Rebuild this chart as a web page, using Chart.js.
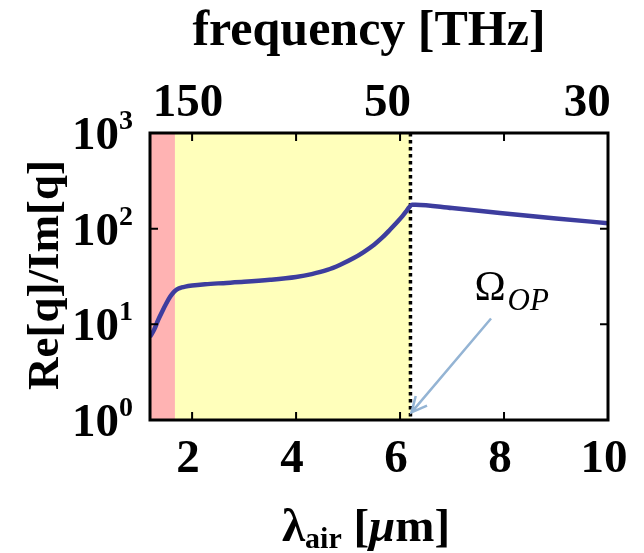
<!DOCTYPE html>
<html>
<head>
<meta charset="utf-8">
<script src="https://cdn.jsdelivr.net/npm/chart.js@4/dist/chart.umd.min.js"></script>
<style>
  html, body { margin: 0; padding: 0; background: #fff; }
  #wrap { width: 644px; height: 553px; }
</style>
</head>
<body>
<div id="wrap"><canvas id="chart" width="644" height="553"></canvas></div>
<script>
// wavelength in air [um] and Re[q]/Im[q]
const lambda = [1.19, 1.27, 1.35, 1.43, 1.5, 1.58, 1.64, 1.68, 1.74, 1.8, 1.87, 2.0, 2.25, 2.5, 3.0, 3.5, 4.0, 4.3, 4.6, 4.85, 5.1, 5.3, 5.5, 5.65, 5.81, 5.95, 6.05, 6.12, 6.18, 6.23, 6.3, 7.0, 7.92, 9.0, 10.0];
const ratio  = [7.4, 8.8, 11.2, 13.8, 16.4, 19.5, 21.5, 22.6, 23.7, 24.3, 24.8, 25.4, 26.2, 26.8, 27.8, 29.2, 31.3, 33.5, 37.0, 42.0, 49.0, 57.0, 68.0, 80.0, 98.0, 118.0, 136.0, 152.0, 168.0, 178.0, 178.0, 164.0, 146.0, 128.0, 114.0];

// axis ticks
const xTicks = [2, 4, 6, 8, 10];
const xTickMarks = [2, 4, 6, 8];
const yTicks = [1, 10, 100, 1000];
const yExp = ['0', '1', '2', '3'];
const freqTicks = [150, 50, 30];       // THz, top axis
const C_UM_THZ = 288;                  // lambda = C / f, as placed in the figure

// shaded bands (um)
const pinkBand = [1.19, 1.67];
const yellowBand = [1.67, 6.2];
const omegaOP = 6.2;

const SERIF = "'Liberation Serif', 'Times New Roman', serif";

const bandsPlugin = {
  id: 'bands',
  beforeDatasetsDraw(chart) {
    const { ctx, chartArea: a, scales: { x } } = chart;
    ctx.save();
    ctx.fillStyle = '#ffb3b3';
    ctx.fillRect(x.getPixelForValue(pinkBand[0]), a.top, x.getPixelForValue(pinkBand[1]) - x.getPixelForValue(pinkBand[0]), a.bottom - a.top);
    ctx.fillStyle = '#ffffbb';
    ctx.fillRect(x.getPixelForValue(yellowBand[0]), a.top, x.getPixelForValue(yellowBand[1]) - x.getPixelForValue(yellowBand[0]), a.bottom - a.top);
    // dotted line at Omega_OP
    const px = x.getPixelForValue(omegaOP);
    ctx.strokeStyle = '#000';
    ctx.lineWidth = 3.5;
    ctx.setLineDash([3.5, 3.5]);
    ctx.beginPath();
    ctx.moveTo(px, a.top);
    ctx.lineTo(px, a.bottom);
    ctx.stroke();
    ctx.restore();
  }
};

const framePlugin = {
  id: 'frame',
  afterDraw(chart) {
    const { ctx, chartArea: a, scales: { x, y } } = chart;
    ctx.save();

    // arrow to Omega_OP
    const ax0 = x.getPixelForValue(7.75), ay0 = y.getPixelForValue(11.5);
    const ax1 = x.getPixelForValue(6.22), ay1 = y.getPixelForValue(1.2);
    ctx.strokeStyle = '#94b4d4';
    ctx.lineWidth = 2.5;
    ctx.beginPath();
    ctx.moveTo(ax0, ay0);
    ctx.lineTo(ax1, ay1);
    const ang = Math.atan2(ay1 - ay0, ax1 - ax0);
    ctx.moveTo(ax1 - 17 * Math.cos(ang - 0.45), ay1 - 17 * Math.sin(ang - 0.45));
    ctx.lineTo(ax1, ay1);
    ctx.lineTo(ax1 - 17 * Math.cos(ang + 0.45), ay1 - 17 * Math.sin(ang + 0.45));
    ctx.stroke();

    // label Omega_OP
    ctx.fillStyle = '#000';
    ctx.textBaseline = 'alphabetic';
    ctx.textAlign = 'left';
    const lx = x.getPixelForValue(7.43), ly = y.getPixelForValue(18);
    ctx.font = '42px ' + SERIF;
    ctx.fillText('\u03A9', lx, ly);
    const ow = ctx.measureText('\u03A9').width;
    ctx.font = 'italic 31px ' + SERIF;
    ctx.fillText('OP', lx + ow + 2, ly + 10);

    // frame
    ctx.strokeStyle = '#000';
    ctx.lineWidth = 3;
    ctx.strokeRect(a.left, a.top, a.right - a.left, a.bottom - a.top);

    // inward ticks
    ctx.lineWidth = 2;
    ctx.beginPath();
    xTickMarks.forEach(v => {
      const p = x.getPixelForValue(v);
      ctx.moveTo(p, a.bottom); ctx.lineTo(p, a.bottom - 8);
      ctx.moveTo(p, a.top); ctx.lineTo(p, a.top + 8);
    });
    yTicks.slice(1, -1).forEach(v => {
      const p = y.getPixelForValue(v);
      ctx.moveTo(a.left, p); ctx.lineTo(a.left + 8, p);
      ctx.moveTo(a.right, p); ctx.lineTo(a.right - 8, p);
    });
    ctx.stroke();

    // bottom tick labels
    ctx.fillStyle = '#000';
    ctx.font = 'bold 47px ' + SERIF;
    ctx.textAlign = 'center';
    xTicks.forEach(v => {
      ctx.fillText(String(v), x.getPixelForValue(v) - 4, 472);
    });

    // top tick labels (frequency)
    freqTicks.forEach(f => {
      ctx.fillText(String(f), x.getPixelForValue(C_UM_THZ / f), 116);
    });

    // y tick labels 10^n
    ctx.textAlign = 'left';
    yTicks.forEach((v, i) => {
      const p = y.getPixelForValue(v);
      ctx.font = 'bold 28px ' + SERIF;
      const ew = ctx.measureText(yExp[i]).width;
      ctx.font = 'bold 47px ' + SERIF;
      const bw = ctx.measureText('10').width;
      const right = a.left - 17;
      ctx.fillText('10', right - ew - bw, p + 16);
      ctx.font = 'bold 28px ' + SERIF;
      ctx.fillText(yExp[i], right - ew, p - 4);
    });

    // top title
    ctx.textAlign = 'center';
    ctx.font = 'bold 50px ' + SERIF;
    ctx.fillText('frequency [THz]', 369, 45);

    // y title
    ctx.save();
    ctx.translate(58, 275);
    ctx.rotate(-Math.PI / 2);
    ctx.font = 'bold 45px ' + SERIF;
    ctx.fillText('Re[q]/Im[q]', 0, 0);
    ctx.restore();

    // x title: lambda_air [mu m]
    const parts = [
      { t: '\u03BB', f: 'bold 47px ', dy: 0 },
      { t: 'air', f: 'bold 30px ', dy: 7 },
      { t: ' [', f: 'bold 47px ', dy: 0 },
      { t: '\u03BC', f: 'italic bold 47px ', dy: 0 },
      { t: 'm]', f: 'bold 47px ', dy: 0 }
    ];
    let tw = 0;
    parts.forEach(pt => { ctx.font = pt.f + SERIF; pt.w = ctx.measureText(pt.t).width; tw += pt.w; });
    let cx = 366 - tw / 2;
    ctx.textAlign = 'left';
    parts.forEach(pt => {
      ctx.font = pt.f + SERIF;
      ctx.fillText(pt.t, cx, 541 + pt.dy);
      cx += pt.w;
    });

    ctx.restore();
  }
};

new Chart(document.getElementById('chart'), {
  type: 'line',
  data: {
    datasets: [{
      data: lambda.map((v, i) => ({ x: v, y: ratio[i] })),
      borderColor: '#3d3d9e',
      borderWidth: 4.5,
      pointRadius: 0,
      cubicInterpolationMode: 'monotone',
      fill: false
    }]
  },
  options: {
    responsive: false,
    animation: false,
    layout: { padding: { left: 150, top: 133, right: 36, bottom: 133 } },
    plugins: { legend: { display: false }, tooltip: { enabled: false } },
    scales: {
      x: { type: 'linear', min: 1.19, max: 10, display: false },
      y: { type: 'logarithmic', min: 1, max: 1000, display: false }
    }
  },
  plugins: [bandsPlugin, framePlugin]
});
</script>
</body>
</html>
